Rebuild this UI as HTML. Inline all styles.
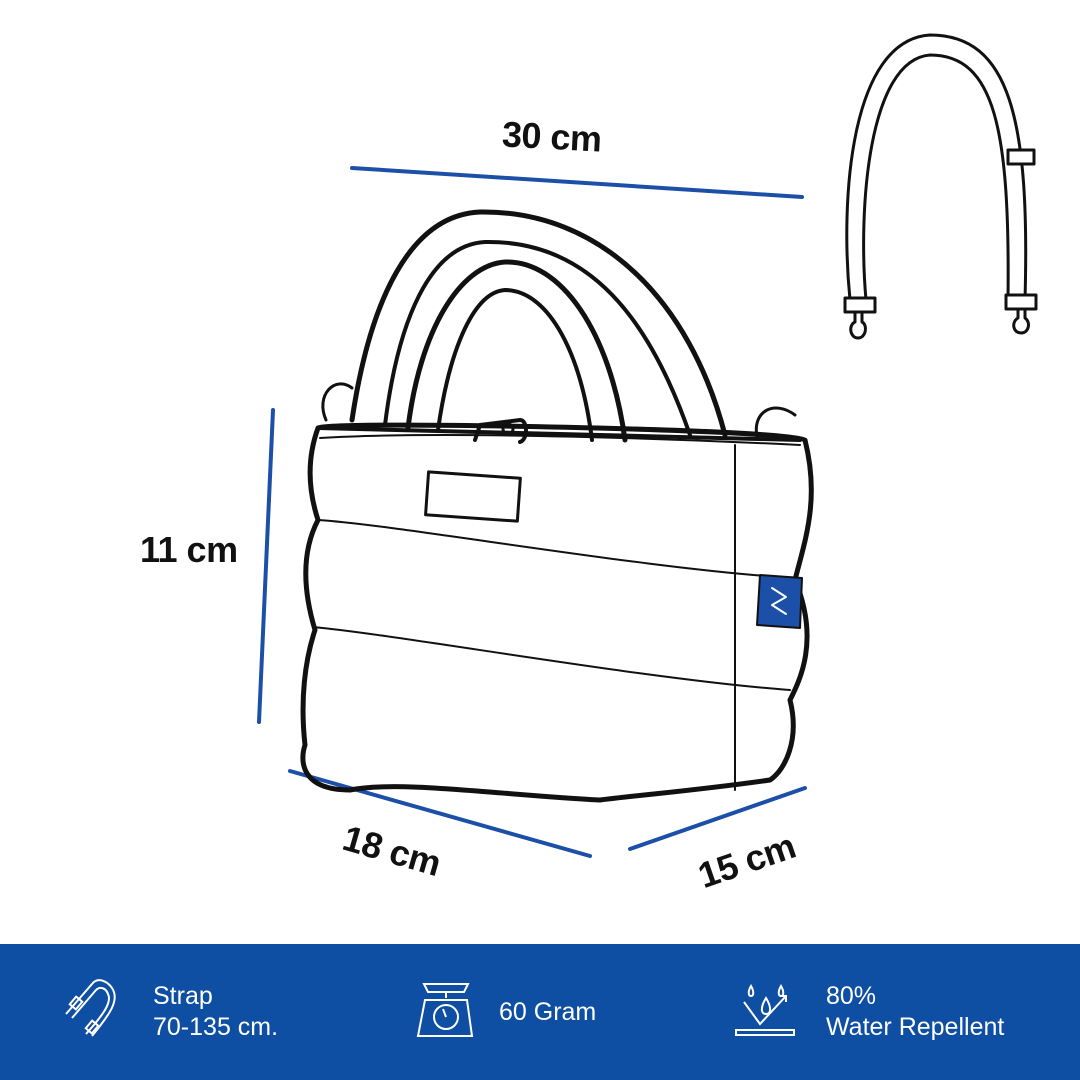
<!DOCTYPE html>
<html><head><meta charset="utf-8"><style>
html,body{margin:0;padding:0;background:#fff;}
.wrap{position:relative;width:1080px;height:1080px;overflow:hidden;font-family:"Liberation Sans",sans-serif;}
.bar{position:absolute;left:0;top:944px;width:1080px;height:136px;background:#0e4fa3;}
.t{position:absolute;color:#fff;font-size:25px;line-height:31px;}
.lbl{position:absolute;font-size:36px;color:#111;font-weight:bold;letter-spacing:-0.5px;}
</style></head><body><div class="wrap">
<svg width="1080" height="944" style="position:absolute;left:0;top:0" fill="none" stroke="#111" stroke-linecap="round" stroke-linejoin="round">
<g stroke="#1b4fa8" stroke-width="4">
<line x1="352" y1="168" x2="802" y2="197"/>
<line x1="273" y1="410" x2="259" y2="722"/>
<line x1="290" y1="771" x2="590" y2="856"/>
<line x1="630" y1="849" x2="805" y2="788"/>
</g>
<g stroke-width="3">
<path d="M850 300 C840 200 850 40 930 35 C1010 35 1030 120 1025 300"/>
<path d="M866 300 C858 210 868 60 930 55 C995 55 1010 130 1008 300"/>
<rect x="1008" y="150" width="26" height="14" fill="#fff"/>
<rect x="845" y="298" width="30" height="14" fill="#fff"/>
<rect x="1006" y="295" width="30" height="14" fill="#fff"/>
<path d="M855 312 L855 322 C848 325 850 338 858 338 C866 338 868 325 862 322 L862 312"/>
<path d="M1018 309 L1018 318 C1011 322 1013 333 1021 333 C1029 333 1031 322 1025 318 L1025 309"/>
</g>
<path d="M408 428 C420 330 460 265 505 262 C560 260 610 330 625 440" stroke-width="5"/>
<path d="M438 430 C450 345 475 292 505 290 C545 290 580 345 592 440" stroke-width="4"/>
<path d="M352 420 C370 300 410 215 480 212 C600 210 690 300 725 435" stroke-width="5"/>
<path d="M385 425 C398 320 430 245 485 242 C590 240 650 320 690 435" stroke-width="4"/>
<path d="M326 420 C315 395 335 375 352 388" stroke-width="3"/>
<path d="M757 437 C752 410 775 400 795 415" stroke-width="3"/>
<path d="M318 428 C335 420 800 430 805 440 C820 500 805 540 795 580 C820 640 800 680 790 700 C800 740 785 770 770 780 C700 790 640 795 600 800 C500 795 400 780 350 790 C300 790 300 760 305 745 C300 700 305 660 315 630 C300 580 305 545 318 520 C305 480 310 450 318 428 Z" stroke-width="5" fill="none"/>
<path d="M318 428 L800 440" stroke-width="4"/>
<path d="M320 438 C450 430 700 440 800 445" stroke-width="2"/>
<path d="M735 445 L735 790" stroke-width="2"/>
<path d="M318 520 C400 525 650 570 795 578" stroke-width="2"/>
<path d="M313 627 C400 635 650 680 790 690" stroke-width="2"/>
<path d="M475 440 L480 425 L520 420 C528 420 528 440 520 442" stroke-width="4"/>
<circle cx="508" cy="429" r="5" stroke-width="3"/>
<rect x="427" y="475" width="92" height="43" stroke-width="3" transform="rotate(4 473 496)"/>
<path d="M760 575 L802 578 L800 628 L757 625 Z" fill="#1b4fa8" stroke="#111" stroke-width="2"/>
<path d="M772 588 L786 597 L772 605 L786 614" stroke="#fff" stroke-width="2"/>
</svg>
<div class="lbl" style="left:502px;top:116px;transform:rotate(3deg)">30 cm</div>
<div class="lbl" style="left:140px;top:529px">11 cm</div>
<div class="lbl" style="left:342px;top:830px;transform:rotate(16deg)">18 cm</div>
<div class="lbl" style="left:697px;top:840px;transform:rotate(-19deg)">15 cm</div>
<div class="bar"></div>
<svg width="1080" height="136" style="position:absolute;left:0;top:944px" fill="none" stroke="#fff" stroke-width="2">
<path d="M66 70 L92 40 C98 32 108 38 112 44 C120 56 110 70 92 92"/>
<path d="M72 74 L96 46 C100 42 106 44 108 50 C112 58 104 70 86 90"/>
<rect x="72" y="54" width="8" height="10" transform="rotate(40 76 59)"/>
<rect x="88" y="78" width="8" height="10" transform="rotate(40 92 83)"/>
<path d="M424 40 L468 40 L464 48 L428 48 Z"/>
<path d="M446 48 L446 54"/>
<path d="M425 56 L467 56 L472 92 L418 92 Z"/>
<circle cx="446" cy="73" r="12"/>
<path d="M446 73 L443 65"/>
<path d="M744 58 L760 80 L786 52"/><path d="M780 52 L786 52 L786 58"/>
<rect x="736" y="86" width="58" height="5"/>
<path d="M766 54 C761 62 760 70 766 70 C772 70 771 62 766 54 Z"/>
<path d="M751 42 C748 47 748 52 751 52 C754 52 754 47 751 42 Z"/>
<path d="M781 42 C778 47 778 52 781 52 C784 52 784 47 781 42 Z"/>
</svg>
<div class="t" style="left:153px;top:981px">Strap<br>70-135 cm.</div>
<div class="t" style="left:499px;top:997px">60 Gram</div>
<div class="t" style="left:826px;top:981px">80%<br>Water Repellent</div>
</div></body></html>
